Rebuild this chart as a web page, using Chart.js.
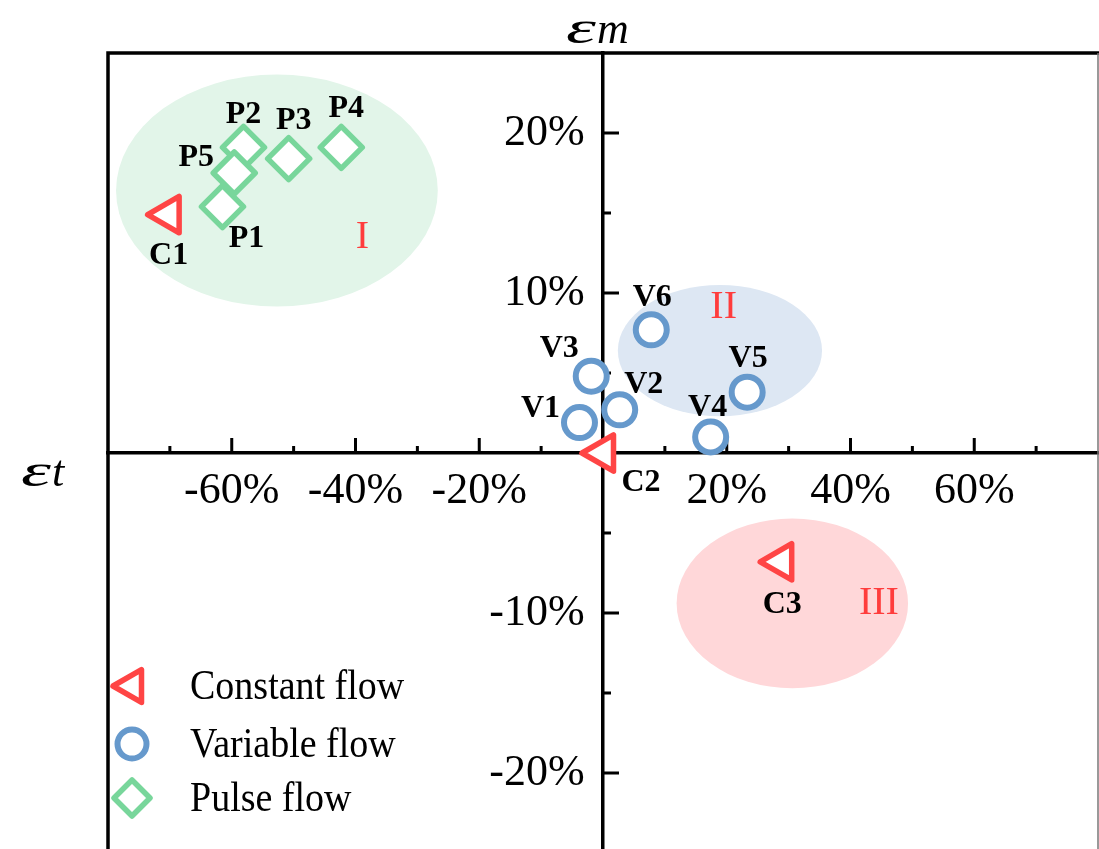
<!DOCTYPE html>
<html>
<head>
<meta charset="utf-8">
<script src="https://cdn.jsdelivr.net/npm/chart.js@4.4.1/dist/chart.umd.min.js"></script>
<style>
    html, body { margin: 0; padding: 0; background: #fff; overflow: hidden; }
    #wrap { width: 1099px; height: 849px; overflow: hidden; }
</style>
</head>
<body>
<div id="wrap"><canvas id="strainChart" width="1099" height="853"></canvas></div>
<script>
// Strain deviation per flow case: εt on x, εm on y (percent)
const constantLabels = ['C1', 'C2', 'C3'];
const constantX = [-70.2, 0, 28.8];
const constantY = [14.9, 0, -6.8];

const variableLabels = ['V1', 'V2', 'V3', 'V4', 'V5', 'V6'];
const variableX = [-3.8, 2.7, -1.9, 17.4, 23.3, 7.8];
const variableY = [1.9, 2.7, 4.8, 1.0, 3.8, 7.7];

const pulseLabels = ['P1', 'P2', 'P3', 'P4', 'P5'];
const pulseX = [-61.5, -58.1, -50.8, -42.3, -59.6];
const pulseY = [15.4, 19.1, 18.4, 19.1, 17.5];

const xTickLabels = [-60, -40, -20, 20, 40, 60];
const yTickLabels = [-20, -10, 10, 20];

const regionNames = ['I', 'II', 'III'];

// Shaded groups, in axis units
const regionShapes = [
    { cx: -52.7, cy: 16.4, rx: 26.0, ry: 7.25, fill: '#e2f5e9', lx: -38.9, ly: 13.5 },
    { cx: 18.9, cy: 6.4, rx: 16.5, ry: 4.1, fill: '#dde7f3', lx: 19.5, ly: 9.1 },
    { cx: 30.6, cy: -9.4, rx: 18.7, ry: 5.3, fill: '#ffd7d9', lx: 44.6, ly: -9.4 }
];

// Where each case name sits relative to its marker (px)
const labelOffsets = {
    C1: [0, 41], C2: [38, 30], C3: [1, 43],
    P1: [24, 32], P2: [0, -33], P3: [5, -38], P4: [5, -39], P5: [-38, -15],
    V1: [-39, -14], V2: [24, -25], V3: [-32, -27], V4: [-3, -29], V5: [1, -33], V6: [1, -32]
};

const SERIF = '"Liberation Serif", "Times New Roman", serif';
const RED = '#ff4545';
const BLUE = '#6699cc';
const GREEN = '#78d69b';

function toPoints(xs, ys) {
    return xs.map((x, i) => ({ x: x, y: ys[i] }));
}

// Centre-positioned axes should not eat into the plot area
function collapseAxisBox(scale) {
    if (scale.isHorizontal()) scale.height = 0;
    else scale.width = 0;
    scale.paddingLeft = scale.paddingRight = 0;
    scale.paddingTop = scale.paddingBottom = 0;
}

function drawFrame(chart) {
    const { ctx, chartArea: a } = chart;
    ctx.save();
    ctx.strokeStyle = '#000';
    ctx.lineWidth = 3.5;
    ctx.beginPath();
    ctx.moveTo(a.left, a.bottom);
    ctx.lineTo(a.left, a.top);
    ctx.lineTo(chart.width, a.top);
    ctx.stroke();
    ctx.strokeStyle = '#777';
    ctx.lineWidth = 1.5;
    ctx.beginPath();
    ctx.moveTo(a.right, a.top);
    ctx.lineTo(a.right, a.bottom);
    ctx.stroke();
    ctx.restore();
}

// Inward tick marks on the crossing axes, major + minor
function drawAxisTicks(chart) {
    const { ctx, scales: { x, y } } = chart;
    const x0 = x.getPixelForValue(0);
    const y0 = y.getPixelForValue(0);
    ctx.save();
    ctx.strokeStyle = '#000';
    ctx.lineWidth = 3;
    ctx.beginPath();
    for (let v = -70; v <= 70; v += 10) {
        if (v === 0) continue;
        const px = x.getPixelForValue(v);
        const len = v % 20 === 0 ? 15 : 7;
        ctx.moveTo(px, y0);
        ctx.lineTo(px, y0 - len);
    }
    for (let v = -20; v <= 20; v += 5) {
        if (v === 0) continue;
        const py = y.getPixelForValue(v);
        const len = v % 10 === 0 ? 16 : 8;
        ctx.moveTo(x0, py);
        ctx.lineTo(x0 + len, py);
    }
    ctx.stroke();
    ctx.restore();
}

function drawRegions(chart) {
    const { ctx, scales: { x, y } } = chart;
    ctx.save();
    regionShapes.forEach(r => {
        const cx = x.getPixelForValue(r.cx);
        const cy = y.getPixelForValue(r.cy);
        const rx = Math.abs(x.getPixelForValue(r.cx + r.rx) - cx);
        const ry = Math.abs(y.getPixelForValue(r.cy + r.ry) - cy);
        ctx.fillStyle = r.fill;
        ctx.beginPath();
        ctx.ellipse(cx, cy, rx, ry, 0, 0, Math.PI * 2);
        ctx.fill();
    });
    ctx.fillStyle = '#ff3c3c';
    ctx.font = '40px ' + SERIF;
    ctx.textAlign = 'center';
    ctx.textBaseline = 'middle';
    regionShapes.forEach((r, i) => {
        ctx.fillText(regionNames[i], x.getPixelForValue(r.lx), y.getPixelForValue(r.ly));
    });
    ctx.restore();
}

function drawPointNames(chart) {
    const ctx = chart.ctx;
    ctx.save();
    ctx.fillStyle = '#000';
    ctx.font = 'bold 32px ' + SERIF;
    ctx.textAlign = 'center';
    ctx.textBaseline = 'middle';
    chart.data.datasets.forEach((ds, di) => {
        chart.getDatasetMeta(di).data.forEach((pt, i) => {
            const name = ds.names[i];
            const off = labelOffsets[name] || [0, -30];
            ctx.fillText(name, pt.x + off[0], pt.y + off[1]);
        });
    });
    ctx.restore();
}

// Wide italic epsilon followed by its subscript letter
function drawStrainSymbol(ctx, sub, left, baseline) {
    ctx.save();
    ctx.font = 'italic 46px ' + SERIF;
    ctx.textAlign = 'left';
    ctx.textBaseline = 'alphabetic';
    ctx.translate(left, baseline);
    ctx.scale(1.65, 1);
    ctx.fillText('ε', 0, 0);
    const w = ctx.measureText('ε').width * 1.65;
    ctx.restore();
    ctx.save();
    ctx.font = 'italic 44px ' + SERIF;
    ctx.textAlign = 'left';
    ctx.textBaseline = 'alphabetic';
    ctx.fillText(sub, left + w + 1, baseline);
    ctx.restore();
}

function drawAxisTitles(chart) {
    const ctx = chart.ctx;
    ctx.fillStyle = '#000';
    drawStrainSymbol(ctx, 'm', 566, 43);
    drawStrainSymbol(ctx, 't', 21, 486);
}

function drawLegendBox(chart) {
    const ctx = chart.ctx;
    const rows = [
        { ds: 0, text: 'Constant flow', y: 686, radius: 19 },
        { ds: 1, text: 'Variable flow', y: 744, radius: 14.5 },
        { ds: 2, text: 'Pulse flow', y: 798, radius: 18 }
    ];
    ctx.save();
    ctx.lineJoin = 'round';
    rows.forEach(row => {
        const ds = chart.data.datasets[row.ds];
        ctx.strokeStyle = ds.borderColor;
        ctx.fillStyle = '#fff';
        ctx.lineWidth = ds.borderWidth;
        Chart.helpers.drawPoint(ctx, {
            pointStyle: ds.pointStyle,
            rotation: ds.rotation || 0,
            radius: row.radius,
            borderWidth: ds.borderWidth
        }, 132, row.y);
    });
    ctx.fillStyle = '#000';
    ctx.font = '38px ' + SERIF;
    ctx.textAlign = 'left';
    ctx.textBaseline = 'middle';
    rows.forEach(row => {
        // slightly taller glyphs, as in the printed legend
        ctx.save();
        ctx.translate(190, row.y + 2);
        ctx.scale(1, 1.1);
        ctx.fillText(row.text, 0, 0);
        ctx.restore();
    });
    ctx.restore();
}

const decorations = {
    id: 'decorations',
    beforeDatasetsDraw(chart) {
        drawRegions(chart);
        drawAxisTicks(chart);
        drawFrame(chart);
        chart.ctx.lineJoin = 'round';
    },
    afterDatasetsDraw(chart) {
        drawPointNames(chart);
    },
    afterDraw(chart) {
        drawAxisTitles(chart);
        drawLegendBox(chart);
    }
};

const tickFont = { family: SERIF, size: 44 };

new Chart(document.getElementById('strainChart'), {
    type: 'scatter',
    data: {
        datasets: [{
            label: 'Constant flow',
            names: constantLabels,
            data: toPoints(constantX, constantY),
            pointStyle: 'triangle',
            rotation: -90,
            pointRadius: 21,
            borderColor: RED,
            backgroundColor: '#fff',
            borderWidth: 5.5
        }, {
            label: 'Variable flow',
            names: variableLabels,
            data: toPoints(variableX, variableY),
            pointStyle: 'circle',
            pointRadius: 15.5,
            borderColor: BLUE,
            backgroundColor: '#fff',
            borderWidth: 6
        }, {
            label: 'Pulse flow',
            names: pulseLabels,
            data: toPoints(pulseX, pulseY),
            pointStyle: 'rectRot',
            pointRadius: 21,
            borderColor: GREEN,
            backgroundColor: '#fff',
            borderWidth: 5.5
        }]
    },
    options: {
        responsive: false,
        animation: false,
        layout: {
            autoPadding: false,
            padding: { left: 108, top: 53, right: 1, bottom: 0 }
        },
        plugins: {
            legend: { display: false },
            tooltip: { enabled: false }
        },
        scales: {
            x: {
                type: 'linear',
                min: -80,
                max: 80,
                position: { y: 0 },
                afterFit: collapseAxisBox,
                grid: { display: true, drawOnChartArea: false, drawTicks: false },
                border: { display: true, color: '#000', width: 3.5 },
                ticks: {
                    stepSize: 10,
                    padding: 12,
                    color: '#000',
                    font: tickFont,
                    maxRotation: 0,
                    minRotation: 0,
                    autoSkip: false,
                    callback: v => xTickLabels.includes(v) ? v + '%' : ''
                }
            },
            y: {
                type: 'linear',
                min: -25,
                max: 25,
                position: { x: 0 },
                afterFit: collapseAxisBox,
                grid: { display: true, drawOnChartArea: false, drawTicks: false },
                border: { display: true, color: '#000', width: 3.5 },
                ticks: {
                    stepSize: 5,
                    color: '#000',
                    font: tickFont,
                    autoSkip: false,
                    // trailing spaces keep the right-aligned labels clear of the axis
                    callback: v => yTickLabels.includes(v) ? v + '%\u2004\u200A' : ''
                }
            }
        }
    },
    plugins: [decorations]
});
</script>
</body>
</html>
